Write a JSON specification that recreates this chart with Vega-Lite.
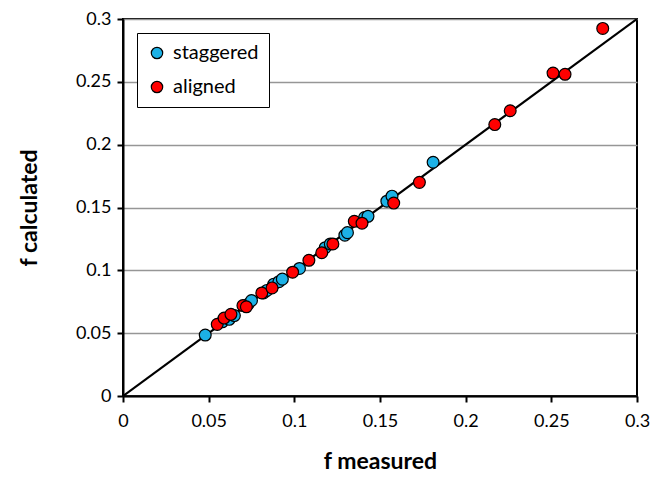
{
  "$schema": "https://vega.github.io/schema/vega-lite/v6.json",
  "width": 514,
  "height": 377,
  "autosize": {"type": "none"},
  "padding": {"left": 123, "top": 19, "right": 16, "bottom": 81},
  "background": "white",
  "config": {
    "font": "Lato",
    "view": {"stroke": "black", "strokeWidth": 2},
    "axis": {
      "labelFont": "Lato",
      "titleFont": "Lato",
      "labelFontSize": 18,
      "labelColor": "#000",
      "titleFontSize": 23,
      "titleFontWeight": "bold",
      "titleColor": "#000",
      "domainColor": "black",
      "domainWidth": 2,
      "tickColor": "black",
      "tickWidth": 2,
      "tickSize": 6
    }
  },
  "datasets": {
    "pts": [
      {"measured": 0.048, "calculated": 0.0485, "type": "staggered"},
      {"measured": 0.058, "calculated": 0.059, "type": "staggered"},
      {"measured": 0.062, "calculated": 0.061, "type": "staggered"},
      {"measured": 0.065, "calculated": 0.064, "type": "staggered"},
      {"measured": 0.073, "calculated": 0.073, "type": "staggered"},
      {"measured": 0.075, "calculated": 0.076, "type": "staggered"},
      {"measured": 0.082, "calculated": 0.082, "type": "staggered"},
      {"measured": 0.084, "calculated": 0.084, "type": "staggered"},
      {"measured": 0.088, "calculated": 0.089, "type": "staggered"},
      {"measured": 0.091, "calculated": 0.091, "type": "staggered"},
      {"measured": 0.093, "calculated": 0.093, "type": "staggered"},
      {"measured": 0.103, "calculated": 0.1015, "type": "staggered"},
      {"measured": 0.118, "calculated": 0.118, "type": "staggered"},
      {"measured": 0.121, "calculated": 0.121, "type": "staggered"},
      {"measured": 0.1295, "calculated": 0.128, "type": "staggered"},
      {"measured": 0.131, "calculated": 0.130, "type": "staggered"},
      {"measured": 0.141, "calculated": 0.142, "type": "staggered"},
      {"measured": 0.143, "calculated": 0.143, "type": "staggered"},
      {"measured": 0.154, "calculated": 0.155, "type": "staggered"},
      {"measured": 0.157, "calculated": 0.159, "type": "staggered"},
      {"measured": 0.181, "calculated": 0.186, "type": "staggered"},
      {"measured": 0.055, "calculated": 0.057, "type": "aligned"},
      {"measured": 0.059, "calculated": 0.062, "type": "aligned"},
      {"measured": 0.063, "calculated": 0.065, "type": "aligned"},
      {"measured": 0.070, "calculated": 0.072, "type": "aligned"},
      {"measured": 0.072, "calculated": 0.071, "type": "aligned"},
      {"measured": 0.081, "calculated": 0.082, "type": "aligned"},
      {"measured": 0.087, "calculated": 0.086, "type": "aligned"},
      {"measured": 0.099, "calculated": 0.0985, "type": "aligned"},
      {"measured": 0.1085, "calculated": 0.108, "type": "aligned"},
      {"measured": 0.116, "calculated": 0.114, "type": "aligned"},
      {"measured": 0.1225, "calculated": 0.121, "type": "aligned"},
      {"measured": 0.135, "calculated": 0.139, "type": "aligned"},
      {"measured": 0.1395, "calculated": 0.1375, "type": "aligned"},
      {"measured": 0.158, "calculated": 0.1535, "type": "aligned"},
      {"measured": 0.173, "calculated": 0.170, "type": "aligned"},
      {"measured": 0.217, "calculated": 0.216, "type": "aligned"},
      {"measured": 0.226, "calculated": 0.227, "type": "aligned"},
      {"measured": 0.251, "calculated": 0.257, "type": "aligned"},
      {"measured": 0.258, "calculated": 0.256, "type": "aligned"},
      {"measured": 0.280, "calculated": 0.2925, "type": "aligned"}
    ],
    "diag": [
      {"measured": 0, "calculated": 0},
      {"measured": 0.3, "calculated": 0.3}
    ]
  },
  "layer": [
    {
      "data": {"name": "diag"},
      "mark": {"type": "line", "color": "black", "strokeWidth": 2.2, "clip": true},
      "encoding": {
        "x": {
          "field": "measured", "type": "quantitative",
          "scale": {"domain": [0, 0.3], "nice": false, "zero": true},
          "axis": {
            "title": "f measured",
            "values": [0, 0.05, 0.1, 0.15, 0.2, 0.25, 0.3],
            "format": "~g",
            "grid": false,
            "labelPadding": 10,
            "titlePadding": 20,
            "labelFlush": false
          }
        },
        "y": {
          "field": "calculated", "type": "quantitative",
          "scale": {"domain": [0, 0.3], "nice": false},
          "axis": {
            "title": "f calculated",
            "values": [0, 0.05, 0.1, 0.15, 0.2, 0.25, 0.3],
            "format": "~g",
            "grid": true,
            "gridColor": "#969696",
            "gridWidth": 1.5,
            "labelPadding": 6,
            "titlePadding": 34,
            "labelFlush": false
          }
        }
      }
    },
    {
      "data": {"name": "pts"},
      "mark": {"type": "point", "filled": true, "shape": "circle", "size": 140, "stroke": "black", "strokeWidth": 1.2, "opacity": 1},
      "encoding": {
        "x": {"field": "measured", "type": "quantitative"},
        "y": {"field": "calculated", "type": "quantitative"},
        "color": {
          "field": "type", "type": "nominal",
          "scale": {"domain": ["staggered", "aligned"], "range": ["#1CB1E6", "#FF0000"]},
          "legend": {
            "title": null,
            "orient": "none",
            "legendX": 14,
            "legendY": 14,
            "fillColor": "white",
            "strokeColor": "black",
            "padding": 10,
            "labelFontSize": 20,
            "labelFont": "Lato",
            "labelColor": "#000",
            "symbolSize": 130,
            "symbolStrokeColor": "black",
            "symbolStrokeWidth": 1.2,
            "rowPadding": 14,
            "labelOffset": 6
          }
        }
      }
    }
  ]
}
